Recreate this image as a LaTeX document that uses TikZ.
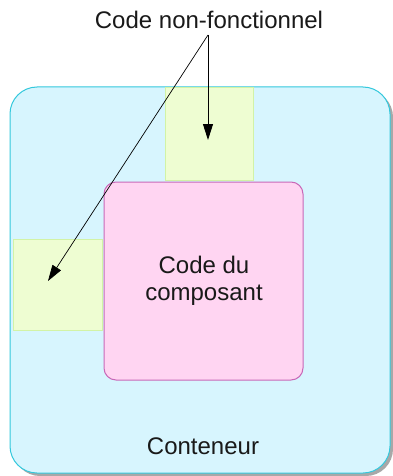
\documentclass[tikz,border=0pt]{standalone}
\usepackage{fontspec}
\setmainfont{Liberation Sans}
\usetikzlibrary{arrows.meta}
\definecolor{contfill}{HTML}{D7F5FE}
\definecolor{contline}{HTML}{33C8DC}
\definecolor{greenfill}{HTML}{EEFDD2}
\definecolor{greenline}{HTML}{D2F3A6}
\definecolor{pinkfill}{HTML}{FFD5F2}
\definecolor{pinkline}{HTML}{C868B8}
\definecolor{shadowgray}{HTML}{A8A8A8}
\tikzset{
  lbl/.style={font=\fontsize{24}{27}\selectfont, text=black!90, inner sep=0pt, align=center},
  greenbox/.style={draw=greenline, fill=greenfill, line width=0.8pt},
  arr/.style={-{Triangle[length=16pt,width=10pt]}, line width=0.9pt, black},
}
\begin{document}
\begin{tikzpicture}[x=1pt,y=-1pt]
\useasboundingbox (0,0) rectangle (392,476);
% shadow
\fill[shadowgray, rounded corners=27pt] (13,90) rectangle (393,476);
% container
\draw[contline, fill=contfill, line width=1pt, rounded corners=27pt] (10,87) rectangle (390,473);
% green boxes
\node[greenbox, minimum width=88pt, minimum height=93pt, anchor=north west, inner sep=0pt] (top) at (165,87) {};
\node[greenbox, minimum width=89pt, minimum height=91pt, anchor=north west, inner sep=0pt] (left) at (13,239) {};
% pink box
\draw[pinkline, fill=pinkfill, line width=1pt, rounded corners=12pt] (104,182) rectangle (303,380);
\node[lbl] (comp) at (204,281) {Code du\\composant};
\node[lbl] (cont) at (203,446) {Conteneur};
\node[lbl] (ncf) at (209,20) {Code non-fonctionnel};
\coordinate (src) at (208,35);
\coordinate (t1) at (208,140);
\coordinate (t2) at (48,281);
\draw[arr] (src) -- (t1);
\draw[arr, line width=0.7pt] (src) -- (t2);
\end{tikzpicture}
\end{document}
